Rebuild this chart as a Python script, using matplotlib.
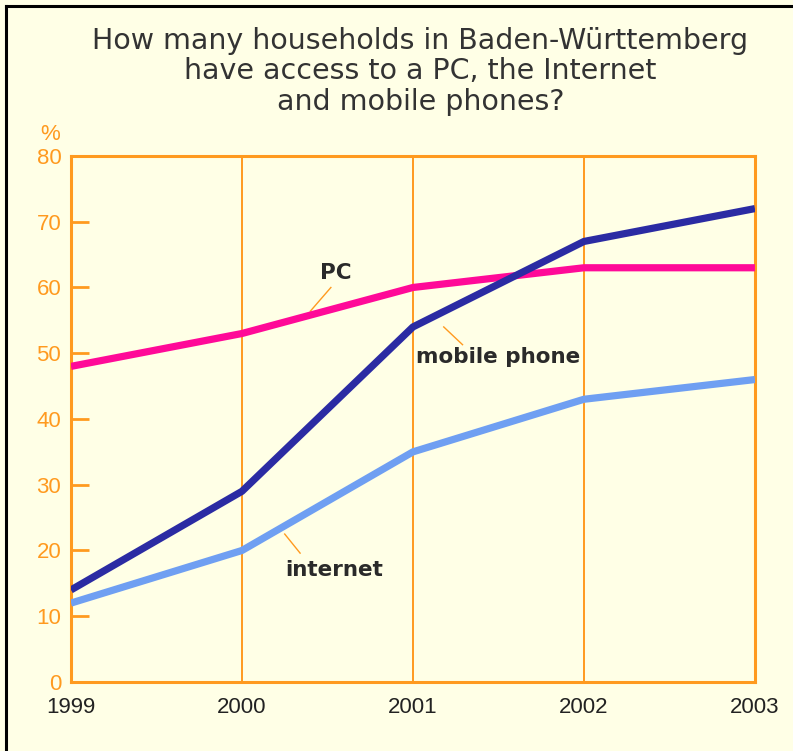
import matplotlib.pyplot as plt
from matplotlib.lines import Line2D

years = [1999, 2000, 2001, 2002, 2003]
pc = [48, 53, 60, 63, 63]
mobile = [14, 29, 54, 67, 72]
internet = [12, 20, 35, 43, 46]
y_ticks = [0, 10, 20, 30, 40, 50, 60, 70, 80]

orange = '#ff9a1f'
bg = '#ffffe6'
dark = '#333333'

fig = plt.figure(figsize=(7.93, 7.51), dpi=100)
fig.patch.set_facecolor(bg)
ax = fig.add_axes([0.0895, 0.0919, 0.8625, 0.7004])
ax.set_facecolor(bg)

# Rahmen links und oben
fig.add_artist(Line2D([0.0076, 0.0076], [0, 0.992], transform=fig.transFigure, color='black', lw=2.2))
fig.add_artist(Line2D([0.0076, 1.0], [0.992, 0.992], transform=fig.transFigure, color='black', lw=2.2))

ax.plot(years, pc, color='#ff0a98', lw=5.2, solid_capstyle='butt', zorder=3)
ax.plot(years, internet, color='#6f9ff2', lw=5.2, solid_capstyle='butt', zorder=3)
ax.plot(years, mobile, color='#2b2ba3', lw=5.2, solid_capstyle='butt', zorder=4)

ax.set_xlim(1999, 2003)
ax.set_ylim(0, 80)
ax.set_xticks(years)
ax.set_yticks(y_ticks)
ax.grid(axis='x', color=orange, lw=1.4)
for s in ax.spines.values():
    s.set_color(orange)
    s.set_linewidth(2.2)
ax.tick_params(axis='y', direction='in', length=13, width=2, color=orange,
               labelcolor=orange, labelsize=16, pad=7)
ax.tick_params(axis='x', length=0, labelcolor='#222222', labelsize=16, pad=11)
for lab in ax.get_xticklabels() + ax.get_yticklabels():
    lab.set_fontfamily('Liberation Sans')

ax.text(-0.03, 1.02, '%', transform=ax.transAxes, color=orange, fontsize=16,
        family='Liberation Sans', ha='center', va='bottom')

# Beschriftungen mit Hinweislinien
lab_kw = dict(fontsize=15.5, fontweight='bold', color='#2a2a2a', family='DejaVu Sans')
ax.text(2000.55, 62.2, 'PC', ha='center', va='center', **lab_kw)
ax.plot([2000.4, 2000.52], [56.4, 60.0], color=orange, lw=1)
ax.text(2001.5, 49.5, 'mobile phone', ha='center', va='center', **lab_kw)
ax.plot([2001.18, 2001.29], [54.0, 51.3], color=orange, lw=1)
ax.text(2000.54, 17.1, 'internet', ha='center', va='center', **lab_kw)
ax.plot([2000.25, 2000.34], [22.5, 19.6], color=orange, lw=1)

fig.text(0.53, 0.905, 'How many households in Baden-Württemberg\nhave access to a PC, the Internet\nand mobile phones?',
         ha='center', va='center', fontsize=20.5, color=dark, family='DejaVu Sans',
         linespacing=1.1)

fig.savefig('out.png', dpi=100, facecolor=bg)
